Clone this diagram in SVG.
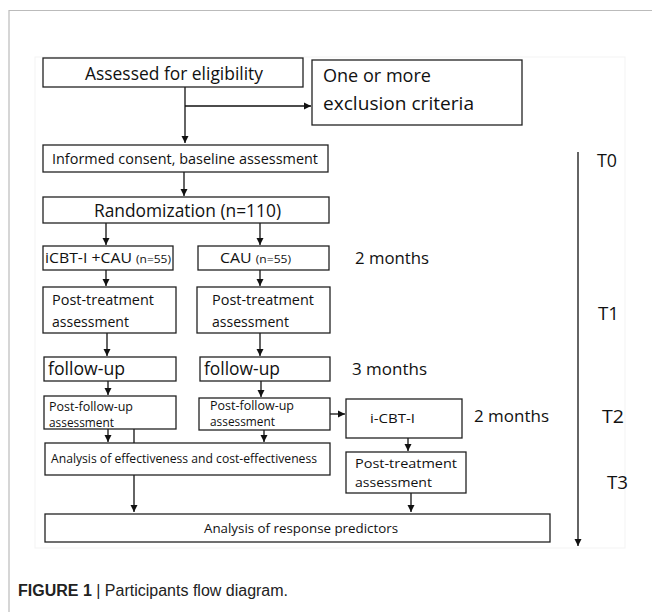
<svg xmlns="http://www.w3.org/2000/svg" width="652" height="612" viewBox="0 0 652 612">
<defs>
<marker id="ah" markerWidth="8" markerHeight="8" refX="7" refY="4" orient="auto" markerUnits="userSpaceOnUse">
<path d="M0,0.5 L7,4 L0,7.5 Z" fill="#111"/>
</marker>
</defs>
<style>
.box{fill:#fff;stroke:#222;stroke-width:1.3}
.t{font-family:"Open Sans","Noto Sans",sans-serif;fill:#111}
.c{stroke:#111;stroke-width:1.3;fill:none}
</style>
<rect x="0" y="0" width="652" height="612" fill="#fff"/>
<path d="M9,612 V10.5 H652" fill="none" stroke="#bbb" stroke-width="1.2"/>
<rect x="35" y="57" width="590" height="491" fill="none" stroke="#f3f3f3" stroke-width="1"/>

<g id="connectors">
<path class="c" d="M185,87 V143" marker-end="url(#ah)"/>
<path class="c" d="M185,106 H311" marker-end="url(#ah)"/>
<path class="c" d="M184,172 V196" marker-end="url(#ah)"/>
<path class="c" d="M106,223 V245" marker-end="url(#ah)"/>
<path class="c" d="M260,223 V245" marker-end="url(#ah)"/>
<path class="c" d="M106,270 V286" marker-end="url(#ah)"/>
<path class="c" d="M260,270 V286" marker-end="url(#ah)"/>
<path class="c" d="M107,333 V356" marker-end="url(#ah)"/>
<path class="c" d="M260,333 V356" marker-end="url(#ah)"/>
<path class="c" d="M108,381 V395" marker-end="url(#ah)"/>
<path class="c" d="M261,381 V397" marker-end="url(#ah)"/>
<path class="c" d="M330,414 H345" marker-end="url(#ah)"/>
<path class="c" d="M108,429 V442" marker-end="url(#ah)"/>
<path class="c" d="M134,429 V443"/>
<path class="c" d="M264,430 V442" marker-end="url(#ah)"/>
<path class="c" d="M408,438 V451" marker-end="url(#ah)"/>
<path class="c" d="M134,475 V512" marker-end="url(#ah)"/>
<path class="c" d="M411,493 V512" marker-end="url(#ah)"/>
<path class="c" d="M578,152 V546" marker-end="url(#ah)"/>
</g>

<g id="assessed"><rect class="box" x="43" y="58" width="260" height="29"/><text class="t" x="85" y="80" font-size="18" textLength="178" lengthAdjust="spacingAndGlyphs">Assessed for eligibility</text></g>
<g id="exclusion"><rect class="box" x="312" y="60" width="210" height="65"/><text class="t" x="323" y="82" font-size="19" textLength="108" lengthAdjust="spacingAndGlyphs">One or more</text><text class="t" x="323" y="110" font-size="19" textLength="151" lengthAdjust="spacingAndGlyphs">exclusion criteria</text></g>
<g id="consent"><rect class="box" x="43" y="145" width="285" height="27"/><text class="t" x="52" y="164" font-size="14.5" textLength="266" lengthAdjust="spacingAndGlyphs">Informed consent, baseline assessment</text></g>
<g id="randomization"><rect class="box" x="43" y="197" width="286" height="26"/><text class="t" x="94" y="217" font-size="18.5" textLength="187" lengthAdjust="spacingAndGlyphs">Randomization (n=110)</text></g>
<g id="icbt-cau"><rect class="box" x="43" y="246" width="130" height="24"/><text class="t" x="45" y="263" font-size="14.5" textLength="126" lengthAdjust="spacingAndGlyphs">iCBT-I +CAU <tspan font-size="11">(n=55)</tspan></text></g>
<g id="cau"><rect class="box" x="198" y="246" width="131" height="24"/><text class="t" x="220" y="263" font-size="14.5" textLength="71" lengthAdjust="spacingAndGlyphs">CAU <tspan font-size="11">(n=55)</tspan></text></g>
<g id="post-treat-l"><rect class="box" x="43" y="287" width="133" height="46"/><text class="t" x="52" y="305" font-size="15" textLength="102" lengthAdjust="spacingAndGlyphs">Post-treatment</text><text class="t" x="52" y="327" font-size="15" textLength="77" lengthAdjust="spacingAndGlyphs">assessment</text></g>
<g id="post-treat-r"><rect class="box" x="197" y="287" width="133" height="46"/><text class="t" x="212" y="305" font-size="15" textLength="102" lengthAdjust="spacingAndGlyphs">Post-treatment</text><text class="t" x="212" y="327" font-size="15" textLength="77" lengthAdjust="spacingAndGlyphs">assessment</text></g>
<g id="followup-l"><rect class="box" x="44" y="357" width="132" height="24"/><text class="t" x="48" y="375" font-size="19" textLength="77" lengthAdjust="spacingAndGlyphs">follow-up</text></g>
<g id="followup-r"><rect class="box" x="200" y="357" width="130" height="24"/><text class="t" x="204" y="375" font-size="19" textLength="76" lengthAdjust="spacingAndGlyphs">follow-up</text></g>
<g id="postfu-l"><rect class="box" x="44" y="396" width="132" height="33"/><text class="t" x="49" y="411" font-size="12.5" textLength="84" lengthAdjust="spacingAndGlyphs">Post-follow-up</text><text class="t" x="49" y="427" font-size="12.5" textLength="65" lengthAdjust="spacingAndGlyphs">assessment</text></g>
<g id="postfu-r"><rect class="box" x="199" y="398" width="131" height="32"/><text class="t" x="210" y="410" font-size="12.5" textLength="84" lengthAdjust="spacingAndGlyphs">Post-follow-up</text><text class="t" x="210" y="426" font-size="12.5" textLength="65" lengthAdjust="spacingAndGlyphs">assessment</text></g>
<g id="icbt"><rect class="box" x="346" y="399" width="116" height="39"/><text class="t" x="370" y="423" font-size="13.5" textLength="45" lengthAdjust="spacingAndGlyphs">i-CBT-I</text></g>
<g id="effectiveness"><rect class="box" x="45" y="443" width="285" height="32"/><text class="t" x="51" y="463" font-size="13" textLength="266" lengthAdjust="spacingAndGlyphs">Analysis of effectiveness and cost-effectiveness</text></g>
<g id="post-treat-3"><rect class="box" x="346" y="452" width="120" height="41"/><text class="t" x="355" y="468" font-size="13.5" textLength="102" lengthAdjust="spacingAndGlyphs">Post-treatment</text><text class="t" x="355" y="487" font-size="13.5" textLength="77" lengthAdjust="spacingAndGlyphs">assessment</text></g>
<g id="predictors"><rect class="box" x="45" y="514" width="505" height="28"/><text class="t" x="204" y="533" font-size="13" textLength="194" lengthAdjust="spacingAndGlyphs">Analysis of response predictors</text></g>

<g id="labels">
<text class="t" x="355" y="264" font-size="17" textLength="74" lengthAdjust="spacingAndGlyphs">2 months</text>
<text class="t" x="352" y="375" font-size="17" textLength="75" lengthAdjust="spacingAndGlyphs">3 months</text>
<text class="t" x="474" y="422" font-size="17" textLength="75" lengthAdjust="spacingAndGlyphs">2 months</text>
<text class="t" x="597" y="167" font-size="18" textLength="20" lengthAdjust="spacingAndGlyphs">T0</text>
<text class="t" x="598" y="320" font-size="18" textLength="21" lengthAdjust="spacingAndGlyphs">T1</text>
<text class="t" x="602" y="423" font-size="18" textLength="22" lengthAdjust="spacingAndGlyphs">T2</text>
<text class="t" x="607" y="489" font-size="18" textLength="21" lengthAdjust="spacingAndGlyphs">T3</text>
</g>
<text x="18" y="596" font-family="'Liberation Sans',Arial,sans-serif" font-size="16" fill="#222"><tspan font-weight="bold">FIGURE 1</tspan> | Participants flow diagram.</text>
</svg>
